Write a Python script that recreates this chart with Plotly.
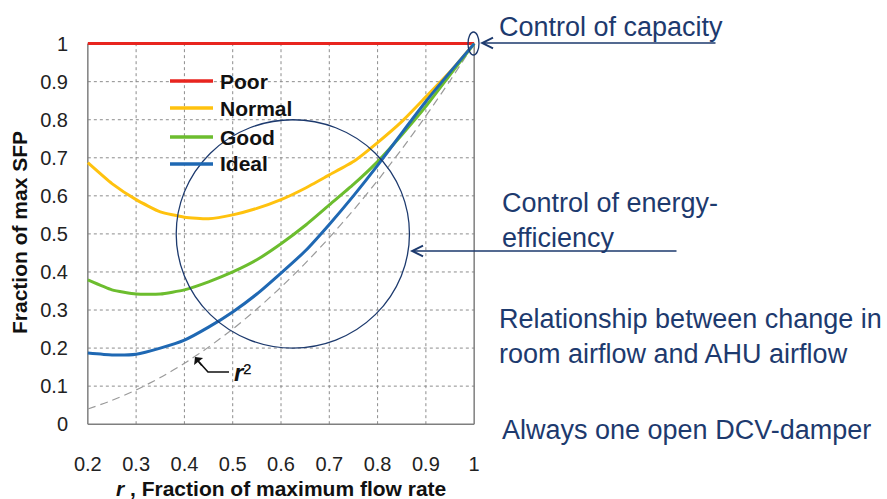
import plotly.graph_objects as go

# flow rate fraction r
r = [0.2, 0.25, 0.3, 0.35, 0.4, 0.45, 0.5, 0.55, 0.6, 0.65, 0.7, 0.75, 0.8, 0.85, 0.9, 0.95, 1.0]

poor = [1.0] * 17
normal = [0.687, 0.632, 0.59, 0.558, 0.544, 0.54, 0.55, 0.567, 0.59, 0.62, 0.655, 0.69, 0.74, 0.795, 0.86, 0.926, 1.0]
good = [0.379, 0.353, 0.342, 0.342, 0.353, 0.374, 0.40, 0.432, 0.474, 0.522, 0.576, 0.63, 0.69, 0.76, 0.835, 0.918, 1.0]
ideal = [0.187, 0.182, 0.184, 0.20, 0.221, 0.255, 0.295, 0.342, 0.397, 0.455, 0.525, 0.6, 0.68, 0.765, 0.848, 0.925, 1.0]
r_squared = [0.04, 0.0625, 0.09, 0.1225, 0.16, 0.2025, 0.25, 0.3025, 0.36, 0.4225, 0.49, 0.5625, 0.64, 0.7225, 0.81, 0.9025, 1.0]

series_names = ["Poor", "Normal", "Good", "Ideal"]
series_colors = ["#e8251f", "#ffc20e", "#6cbd2e", "#1f68b3"]

x_ticks = [0.2, 0.3, 0.4, 0.5, 0.6, 0.7, 0.8, 0.9, 1.0]
x_ticktext = ["0.2", "0.3", "0.4", "0.5", "0.6", "0.7", "0.8", "0.9", "1"]
y_ticks = [0, 0.1, 0.2, 0.3, 0.4, 0.5, 0.6, 0.7, 0.8, 0.9, 1.0]
y_ticktext = ["0", "0.1", "0.2", "0.3", "0.4", "0.5", "0.6", "0.7", "0.8", "0.9", "1"]

NAVY = "#1d3a6e"
GRID = "#8c8c8c"
FONT = "Liberation Sans"

# plot area in pixels (used to place things outside the axes)
L, T, W, H = 83, 36, 396, 392


def px(x):
    return (x - L) / W


def py(y):
    return 1 - (y - T) / H


fig = go.Figure()

fig.add_trace(go.Scatter(x=r, y=r_squared, mode="lines",
                         line=dict(color="#9a9a9a", width=1.2, dash="8px,5px", shape="spline", smoothing=0.6),
                         showlegend=False, hoverinfo="skip"))
for name, vals, col in zip(series_names, [poor, normal, good, ideal], series_colors):
    fig.add_trace(go.Scatter(x=r, y=vals, mode="lines", name=name,
                             line=dict(color=col, width=3, shape="spline", smoothing=0.5),
                             showlegend=False))

shapes = []
# dotted grid
for v in x_ticks[1:-1]:
    shapes.append(dict(type="line", xref="x", yref="y", x0=v, x1=v, y0=0, y1=1,
                       line=dict(color=GRID, width=1, dash="dot"), layer="below"))
for v in y_ticks[1:-1]:
    shapes.append(dict(type="line", xref="x", yref="y", x0=0.2, x1=1, y0=v, y1=v,
                       line=dict(color=GRID, width=1, dash="dot"), layer="below"))
# frame
for x0, x1, y0, y1 in [(0.2, 0.2, 0, 1), (0.2, 1, 0, 0), (1, 1, 0, 1)]:
    shapes.append(dict(type="line", xref="x", yref="y", x0=x0, x1=x1, y0=y0, y1=y1,
                       line=dict(color="#7f7f7f", width=1.5), layer="below"))

# big circle
shapes.append(dict(type="circle", xref="x", yref="y", x0=0.383, x1=0.866, y0=0.2, y1=0.8,
                   line=dict(color=NAVY, width=1.3)))
# small ellipse at (1,1)
shapes.append(dict(type="circle", xref="paper", yref="paper",
                   x0=px(468), x1=px(479), y0=py(55), y1=py(32),
                   line=dict(color=NAVY, width=1.3)))
# r^2 leader line
shapes.append(dict(type="path", xref="paper", yref="paper",
                   path="M %f,%f L %f,%f L %f,%f" % (px(199), py(362), px(208), py(372), px(229), py(372)),
                   line=dict(color="#111111", width=1.6)))

# manual legend
legend_rows = [81, 108, 137, 164]
annotations = []
for name, col, row in zip(series_names, series_colors, legend_rows):
    shapes.append(dict(type="line", xref="paper", yref="paper",
                       x0=px(170), x1=px(213), y0=py(row), y1=py(row),
                       line=dict(color=col, width=3.5)))
    annotations.append(dict(xref="paper", yref="paper", x=px(218), y=py(row),
                            text="<b>%s</b>" % name, showarrow=False,
                            xanchor="left", yanchor="middle",
                            font=dict(family=FONT, size=21, color="#111111")))

# arrowhead at the r^2 curve
annotations.append(dict(xref="paper", yref="paper", x=px(195), y=py(357), ax=8, ay=10,
                        text="", showarrow=True,
                        arrowhead=1, arrowsize=1.2, arrowwidth=1.6, arrowcolor="#111111"))
annotations.append(dict(xref="paper", yref="paper", x=px(232), y=py(372),
                        text="<b><i>r</i></b>²", showarrow=False, xanchor="left", yanchor="middle",
                        font=dict(family=FONT, size=24, color="#111111")))

# axis titles
annotations.append(dict(xref="paper", yref="paper", x=px(281), y=py(488),
                        text="<b><i>r</i> , Fraction of maximum flow rate</b>", showarrow=False,
                        xanchor="center", yanchor="middle",
                        font=dict(family=FONT, size=21, color="#111111")))
annotations.append(dict(xref="paper", yref="paper", x=px(19), y=py(233),
                        text="<b>Fraction of max SFP</b>", showarrow=False, textangle=-90,
                        xanchor="center", yanchor="middle",
                        font=dict(family=FONT, size=21, color="#111111")))

# right-hand notes
notes = [
    (497, 27, "Control of capacity"),
    (500, 221, "Control of energy-<br>efficiency"),
    (497, 336, "Relationship between change in<br>room airflow and AHU airflow"),
    (500, 430, "Always one open DCV-damper"),
]
for x, y, txt in notes:
    annotations.append(dict(xref="paper", yref="paper", x=px(x), y=py(y), text=txt,
                            showarrow=False, xanchor="left", yanchor="middle", align="left",
                            font=dict(family=FONT, size=27, color=NAVY)))

# pointer arrows (head position, tail offset in px)
for hx, hy, tx, ty in [(480, 43, 717, 43), (410, 251, 678, 251)]:
    annotations.append(dict(xref="paper", yref="paper", x=px(hx), y=py(hy),
                            ax=tx - hx, ay=ty - hy,
                            text="", showarrow=True, arrowhead=5, arrowsize=1.5,
                            arrowwidth=1.4, arrowcolor=NAVY))

fig.update_layout(
    width=887, height=499,
    margin=dict(l=L, r=887 - L - W, t=T, b=499 - T - H),
    paper_bgcolor="white", plot_bgcolor="white",
    shapes=shapes, annotations=annotations,
    xaxis=dict(range=[0.19, 1.01], tickvals=x_ticks, ticktext=x_ticktext,
               showgrid=False, zeroline=False, showline=False, ticks="",
               ticklabelstandoff=22,
               tickfont=dict(family=FONT, size=20, color="#222222")),
    yaxis=dict(range=[-0.01, 1.02], tickvals=y_ticks, ticktext=y_ticktext,
               showgrid=False, zeroline=False, showline=False, ticks="",
               ticklabelstandoff=14,
               tickfont=dict(family=FONT, size=20, color="#222222")),
)

fig.write_html("out.html", config={"displayModeBar": False},
               post_script="document.body.style.margin='0';")
